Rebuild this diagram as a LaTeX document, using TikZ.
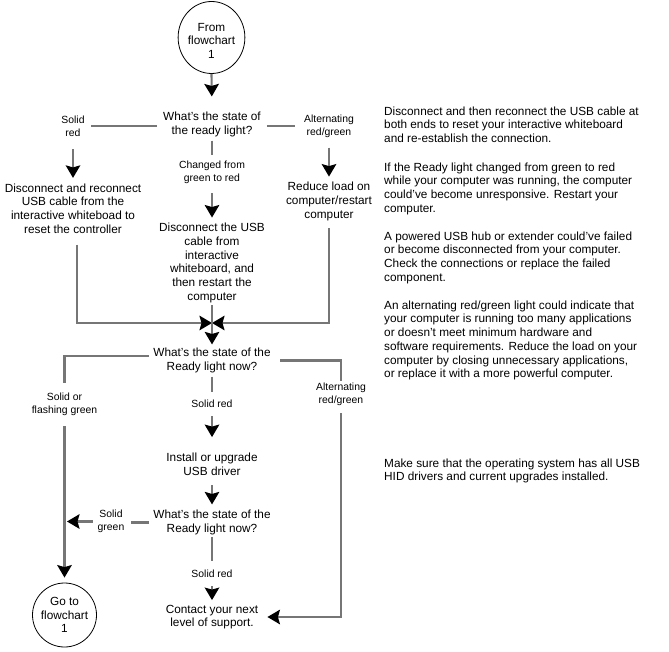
\documentclass[tikz,border=0pt]{standalone}
\usepackage{fontspec}
\setmainfont{Liberation Sans}
\usetikzlibrary{arrows.meta,calc,shapes.geometric}
\definecolor{linegray}{RGB}{118,118,118}
\newcommand\fmain{\fontsize{11.8}{13.7}\selectfont}
\newcommand\flbl{\fontsize{10.4}{13}\selectfont}
\tikzset{
 txt/.style={font=\fmain, align=center, inner sep=0pt},
 lbl/.style={font=\flbl, align=center, inner sep=0pt},
 para/.style={font=\fmain, align=left, inner sep=0pt, anchor=north west},
 term/.style={circle, draw=black, line width=0.8pt, minimum size=64pt, inner sep=0pt, font=\fmain, align=center},
 ln/.style={draw=linegray, line width=2.1pt},
 arr/.style={ln, -{Stealth[length=12.5pt, width=14.5pt, inset=2pt, color=black]}},
}
\begin{document}
\begin{tikzpicture}[x=1pt,y=-1pt]
\useasboundingbox (0,0) rectangle (669,652);
% nodes
\node[term, ellipse, minimum width=65pt, minimum height=72pt] (start) at (211.5,37.5) {\rule{0pt}{15pt}From\\flowchart\\1};
\node[txt] (d1) at (212,124.5) {What's the state of\\the ready light?};
\node[lbl] (ls1) at (73,126.5) {Solid\\red};
\node[lbl] (la1) at (329,126.5) {Alternating\\red/green};
\node[lbl] (lc1) at (212,172.5) {Changed from\\green to red};
\node[txt] (b1) at (73,208.5) {Disconnect and reconnect\\USB cable from the\\interactive whiteboad to\\reset the controller};
\node[txt] (b2) at (212,263) {Disconnect the USB\\cable from\\interactive\\whiteboard, and\\then restart the\\computer};
\node[txt] (b3) at (329,201.5) {Reduce load on\\computer/restart\\computer};
\coordinate (m) at (212,323);
\node[txt] (d2) at (212,360.5) {What's the state of the\\Ready light now?};
\node[lbl] (lsf) at (64.5,404.5) {Solid or\\flashing green};
\node[lbl] (la2) at (341,394.5) {Alternating\\red/green};
\node[lbl] (ls2) at (212,404) {Solid red};
\node[txt] (inst) at (212,464) {Install or upgrade\\USB driver};
\node[txt] (d3) at (212,522.5) {What's the state of the\\Ready light now?};
\node[lbl] (ls3) at (111,521.5) {Solid\\green};
\node[lbl] (ls4) at (212,574) {Solid red};
\node[txt] (contact) at (212,617) {Contact your next\\level of support.};
\node[term] (end) at (64.5,615) {Go to\\flowchart\\1};
% side notes
\node[para] (p1) at (384,106.5) {Disconnect and then reconnect the USB cable at\\both ends to reset your interactive whiteboard\\and re-establish the connection.};
\node[para] (p2) at (384,162.5) {If the Ready light changed from green to red\\while your computer was running, the computer\\could’ve become unresponsive. Restart your\\computer.};
\node[para] (p3) at (384,231.5) {A powered USB hub or extender could’ve failed\\or become disconnected from your computer.\\Check the connections or replace the failed\\component.};
\node[para] (p4) at (384,300.5) {An alternating red/green light could indicate that\\your computer is running too many applications\\or doesn’t meet minimum hardware and\\software requirements. Reduce the load on your\\computer by closing unnecessary applications,\\or replace it with a more powerful computer.};
\node[para] (p5) at (384,458.5) {Make sure that the operating system has all USB\\HID drivers and current upgrades installed.};
% connectors
\draw[arr, shorten >=15.5] (start.south) -- (d1.north);
\draw[ln, shorten <=6, shorten >=6.5] ([yshift=-1.5pt]d1.west) -- ([yshift=-1.5pt]d1.west -| ls1.east);
\draw[arr, shorten <=12, shorten >=5.5] (ls1.south) -- (b1.north);
\draw[ln, shorten <=6, shorten >=9] ([yshift=-1.5pt]d1.east) -- ([yshift=-1.5pt]d1.east -| la1.west);
\draw[arr, shorten <=9.5, shorten >=5.5] (la1.south) -- (b3.north);
\draw[ln, shorten <=3.5, shorten >=6] (d1.south) -- (lc1.north);
\draw[arr, shorten <=9, shorten >=5.5] (lc1.south) -- (b2.north);
\draw[arr, shorten <=11] ([xshift=4pt]b1.south) |- (m);
\draw[arr, shorten <=7.5] (b3.south) |- (m);
\draw[arr, shorten <=2.5, shorten >=3.5] (b2.south) -- (d2.north);
\draw[ln, shorten <=4, shorten >=10] ([yshift=4.5pt]d2.west) -| (lsf.north);
\draw[arr, shorten <=10, shorten >=5] (lsf.south) -- (end.north);
\draw[ln, shorten <=9, shorten >=2] (d2.east) -| (la2.north);
\draw[arr, shorten <=7, shorten >=9] (la2.south) |- (contact.east);
\draw[ln, shorten <=3.5, shorten >=8] (d2.south) -- (ls2.north);
\draw[arr, shorten <=8, shorten >=15.5] (ls2.south) -- (inst.north);
\draw[arr, shorten <=10, shorten >=5.5] (inst.south) -- (d3.north);
\draw[ln, shorten <=4, shorten >=6.6] (d3.west) -- (d3.west -| ls3.east);
\draw[arr, shorten <=4.6, shorten >=2.5] (ls3.west) -- (ls3.west -| lsf.south);
\draw[ln, shorten <=1.5, shorten >=9] (d3.south) -- (ls4.north);
\draw[arr, shorten <=8, shorten >=4.5] (ls4.south) -- (contact.north);
\end{tikzpicture}
\end{document}
